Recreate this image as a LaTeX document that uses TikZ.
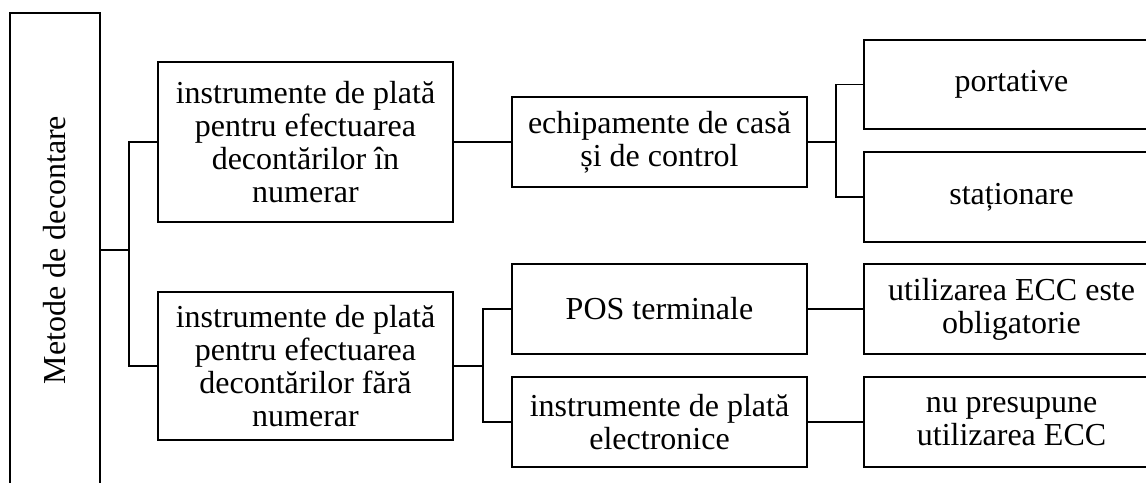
\documentclass[tikz,border=0pt]{standalone}
\usepackage{graphicx}
\usepackage{fontspec}
\setmainfont{Liberation Serif}
\tikzset{
	cadru/.style={draw, rectangle, line width=0.9pt, align=center, inner sep=2pt, font=\fontsize{16}{16.5}\selectfont},
	lat/.style={cadru, minimum width=147.5pt},
	legatura/.style={line width=0.9pt},
}
\begin{document}
\begin{tikzpicture}[x=0.5pt,y=-0.5pt]
	\clip (0,0) rectangle (1146,482);
	\node[cadru, minimum width=45pt, minimum height=237pt] (metode) at (55,250) {\rotatebox{90}{Metode de decontare}};
	\node[lat, minimum height=80pt] (numerar) at (305.5,142) {instrumente de plată\\pentru efectuarea\\decontărilor în\\numerar};
	\node[lat, minimum height=74pt] (faranum) at (305.5,366) {instrumente de plată\\pentru efectuarea\\decontărilor fără\\numerar};
	\node[lat, minimum height=45pt] (echip) at (659.5,142) {echipamente de casă\\și de control};
	\node[lat, minimum height=45pt] (pos) at (659.5,309) {POS terminale};
	\node[lat, minimum height=45pt] (electr) at (659.5,422) {instrumente de plată\\electronice};
	\node[lat, minimum height=44.5pt] (portative) at (1011.5,84.5) {portative};
	\node[lat, minimum height=45pt] (stationare) at (1011.5,197) {staționare};
	\node[lat, minimum height=45pt] (obligat) at (1011.5,309) {utilizarea ECC este\\obligatorie};
	\node[lat, minimum height=45pt] (nupres) at (1011.5,422) {nu presupune\\utilizarea ECC};
	\draw[legatura] (metode.east) -- ++(28,0) coordinate (r0);
	\draw[legatura] (numerar.west) -| (r0) |- (faranum.west);
	\draw[legatura] (numerar.east) -- (echip.west);
	\draw[legatura] (echip.east) -- ++(28,0) coordinate (r1);
	\draw[legatura] (portative.west) -| (r1) |- (stationare.west);
	\draw[legatura] (faranum.east) -- ++(29,0) coordinate (r2);
	\draw[legatura] (pos.west) -| (r2) |- (electr.west);
	\draw[legatura] (pos.east) -- (obligat.west);
	\draw[legatura] (electr.east) -- (nupres.west);
\end{tikzpicture}
\end{document}
